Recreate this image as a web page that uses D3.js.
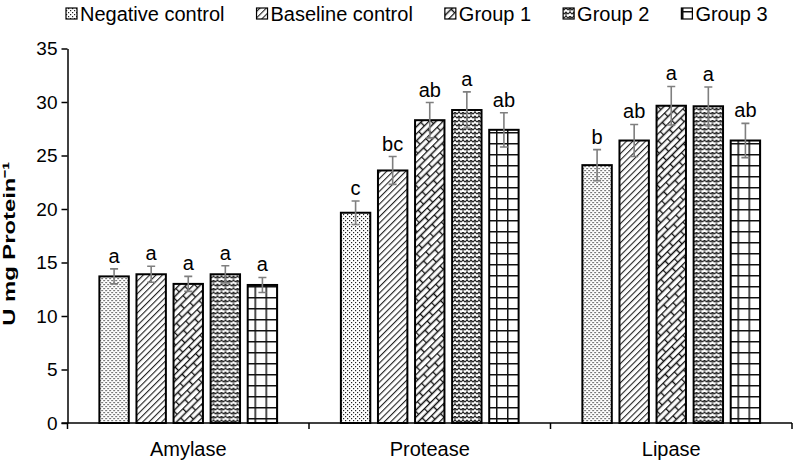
<!DOCTYPE html>
<html><head><meta charset="utf-8">
<script src="https://cdn.jsdelivr.net/npm/d3@7"></script>
<style>body{margin:0;background:#fff}svg{display:block;font-family:"Liberation Sans",Arial,sans-serif}</style>
</head><body><svg id="c" width="796" height="460"></svg>
<script>
const categories = ["Amylase","Protease","Lipase"];
const groups = ["Negative control","Baseline control","Group 1","Group 2","Group 3"];
const values = [
  [13.7,13.9,13.0,13.9,12.9],
  [19.65,23.6,28.3,29.25,27.4],
  [24.1,26.4,29.65,29.6,26.4]
];
const errors = [
  [0.7,0.75,0.7,0.8,0.7],
  [1.1,1.3,1.65,1.7,1.6],
  [1.45,1.5,1.8,1.8,1.6]
];
const letters = [
  ["a","a","a","a","a"],
  ["c","bc","ab","a","ab"],
  ["b","ab","a","a","ab"]
];
const yTicks = [0,5,10,15,20,25,30,35];

const svg = d3.select("#c");
const defs = svg.append("defs");
const pats = ["p0","p1","p2","p3","p4"];
// dots
let p = defs.append("pattern").attr("id","p0").attr("patternUnits","userSpaceOnUse").attr("width",4).attr("height",4);
p.append("rect").attr("width",4).attr("height",4).attr("fill","#fff");
p.append("rect").attr("x",0).attr("y",0).attr("width",1.2).attr("height",1.2).attr("fill","#222");
p.append("rect").attr("x",2).attr("y",2).attr("width",1.2).attr("height",1.2).attr("fill","#222");
// diagonal
p = defs.append("pattern").attr("id","p1").attr("patternUnits","userSpaceOnUse").attr("width",4.5).attr("height",4.5).attr("patternTransform","rotate(45)");
p.append("rect").attr("width",4.5).attr("height",4.5).attr("fill","#fff");
p.append("line").attr("x1",0).attr("y1",0).attr("x2",0).attr("y2",4.5).attr("stroke","#222").attr("stroke-width",2.2);
// diagonal brick
p = defs.append("pattern").attr("id","p2").attr("patternUnits","userSpaceOnUse").attr("width",16).attr("height",10).attr("patternTransform","rotate(-45)");
p.append("rect").attr("width",16).attr("height",10).attr("fill","#fff");
p.append("path").attr("d","M0,0.5H16M0,5.5H16M0.5,0V5.5M8.5,5.5V10").attr("stroke","#111").attr("stroke-width",1.4).attr("fill","none");
// weave / zigzag
p = defs.append("pattern").attr("id","p3").attr("patternUnits","userSpaceOnUse").attr("width",8).attr("height",8);
p.append("rect").attr("width",8).attr("height",8).attr("fill","#fff");
p.append("path").attr("d","M0,2 L2,0 L4,2 L6,0 L8,2 M0,6 L2,4 L4,6 L6,4 L8,6 M2,0 L2,4 M6,4 L6,8").attr("stroke","#222").attr("stroke-width",1.1).attr("fill","none");
// grid
p = defs.append("pattern").attr("id","p4").attr("patternUnits","userSpaceOnUse").attr("width",11).attr("height",11).attr("x",0).attr("y",0);
p.append("rect").attr("width",11).attr("height",11).attr("fill","#fff");
p.append("path").attr("d","M0,0.75H11M0.75,0V11").attr("stroke","#111").attr("stroke-width",1.5);

const mLeft=67.5, mRight=792, mTop=48.5, mBottom=423;
const y = d3.scaleLinear().domain([0,35]).range([mBottom,mTop]);
const x0 = d3.scaleBand().domain(categories).range([mLeft,mRight]).padding(0);
const x1 = d3.scaleBand().domain(groups).range([0,x0.bandwidth()]).paddingInner(0.207).paddingOuter(0.86);

// y axis
const ya = svg.append("g").attr("transform",`translate(${mLeft},0)`)
  .call(d3.axisLeft(y).tickValues(yTicks).tickSize(6).tickSizeOuter(0));
ya.select(".domain").attr("stroke","#000").attr("stroke-width",1.5);
ya.selectAll(".tick line").attr("stroke","#000").attr("stroke-width",1.5);
ya.selectAll(".tick text").attr("font-size",19).attr("fill","#000").attr("x",-10).attr("font-family","Liberation Sans, Arial, sans-serif");

// bars
categories.forEach((c,ci)=>{
  const g = svg.append("g").attr("transform",`translate(${x0(c)},0)`);
  groups.forEach((gr,gi)=>{
    const v = values[ci][gi], e = errors[ci][gi];
    const bx = x1(gr), bw = x1.bandwidth();
    g.append("rect").attr("x",bx).attr("y",y(v)).attr("width",bw).attr("height",y(0)-y(v))
      .attr("fill",`url(#${pats[gi]})`).attr("stroke","#000").attr("stroke-width",2);
    const cx = bx+bw/2;
    g.append("path").attr("d",`M${cx},${y(v+e)}V${y(v-e)}M${cx-4},${y(v+e)}H${cx+4}M${cx-4},${y(v-e)}H${cx+4}`)
      .attr("stroke","#7f7f7f").attr("stroke-width",1.6).attr("fill","none");
    g.append("text").attr("x",cx).attr("y",y(v+e)-6).attr("text-anchor","middle")
      .attr("font-size",20).attr("fill","#000").text(letters[ci][gi]);
  });
});

// x axis
svg.append("line").attr("x1",mLeft-6).attr("x2",mRight).attr("y1",mBottom).attr("y2",mBottom).attr("stroke","#000").attr("stroke-width",1.5);
const bounds = categories.map(c=>x0(c)).concat([x0(categories[categories.length-1])+x0.bandwidth()]);
bounds.forEach(b=>svg.append("line").attr("x1",b).attr("x2",b).attr("y1",mBottom).attr("y2",mBottom+6).attr("stroke","#000").attr("stroke-width",1.5));
categories.forEach(c=>svg.append("text").attr("x",x0(c)+x0.bandwidth()/2).attr("y",mBottom+33).attr("text-anchor","middle").attr("font-size",20).attr("fill","#000").text(c));

// y title
svg.append("text").attr("transform",`translate(15,${(mTop+mBottom)/2 + 8}) rotate(-90) scale(1.4,1)`).attr("text-anchor","middle")
  .attr("font-size",17).attr("font-weight","bold").attr("fill","#000").text("U mg Protein⁻¹");

// legend
let lx = 66;
groups.forEach((gr,gi)=>{
  svg.append("rect").attr("x",lx).attr("y",8).attr("width",11).attr("height",11).attr("fill",`url(#${pats[gi]})`).attr("stroke","#000").attr("stroke-width",1.2);
  const t = svg.append("text").attr("x",lx+14).attr("y",20.5).attr("font-size",20).attr("fill","#000").text(gr);
  lx += 14 + t.node().getComputedTextLength() + 32;
});
</script></body></html>
